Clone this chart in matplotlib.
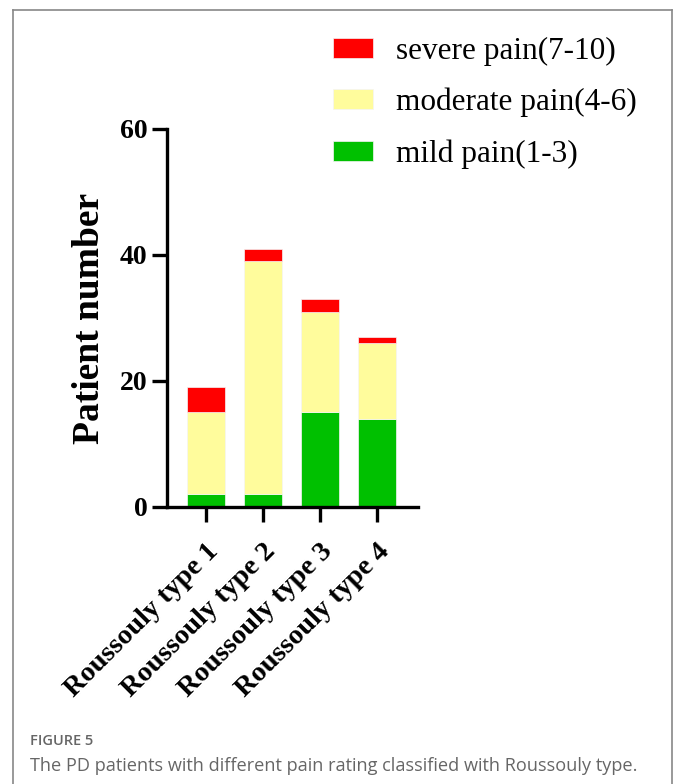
import matplotlib
matplotlib.use("Agg")
import matplotlib.pyplot as plt
from matplotlib.lines import Line2D

categories = ["Roussouly type 1", "Roussouly type 2", "Roussouly type 3", "Roussouly type 4"]
mild = [2, 2, 15, 14]
moderate = [13, 37, 16, 12]
severe = [4, 2, 2, 1]
yticks = [0, 20, 40, 60]

c_mild = "#00C000"
c_mod = "#FFFC9C"
c_sev = "#FF0000"

serif = "Liberation Serif"

fig = plt.figure(figsize=(6.8, 7.84), dpi=100)
W, H = 680, 784

# outer frame (open at the bottom)
for xs, ys in [((13, 13), (784, 10)), ((13, 672), (10, 10)), ((672, 672), (10, 784))]:
    fig.add_artist(Line2D([x / W for x in xs], [1 - y / H for y in ys],
                          color="#888888", lw=1.2, transform=fig.transFigure))

ax = fig.add_axes([167 / W, 1 - 507 / H, (418 - 167) / W, (507 - 129) / H])

x = list(range(len(categories)))
bw = 0.67
bottom2 = [a + b for a, b in zip(mild, moderate)]
b1 = ax.bar(x, mild, width=bw, color=c_mild, edgecolor="#f4f4f4", linewidth=0.5, label="mild pain(1-3)")
b2 = ax.bar(x, moderate, width=bw, bottom=mild, color=c_mod, edgecolor="#f4f4f4", linewidth=0.5,
            label="moderate pain(4-6)")
b3 = ax.bar(x, severe, width=bw, bottom=bottom2, color=c_sev, edgecolor="#f4f4f4", linewidth=0.5,
            label="severe pain(7-10)")

ax.set_xlim(-0.68, 3.72)
ax.set_ylim(0, 60)
ax.set_yticks(yticks)
ax.set_yticklabels([str(v) for v in yticks], fontfamily=serif, fontweight="bold", fontsize=20)
ax.set_xticks(x)
ax.set_xticklabels(categories, rotation=45, ha="right", rotation_mode="anchor",
                   fontfamily=serif, fontweight="bold", fontsize=20.5)
for s in ["top", "right"]:
    ax.spines[s].set_visible(False)
for s in ["left", "bottom"]:
    ax.spines[s].set_linewidth(2.4)
ax.tick_params(axis="y", length=11, width=2.4, pad=3)
ax.tick_params(axis="x", length=11, width=2.4, pad=12)
ax.set_ylabel("Patient number", fontfamily=serif, fontweight="bold", fontsize=27, labelpad=9)

handles = [b3, b2, b1]
labels = ["severe pain(7-10)", "moderate pain(4-6)", "mild pain(1-3)"]
fig.legend(handles, labels, loc="upper left", bbox_to_anchor=(333 / W, 1 - 37 / H),
           frameon=False, prop={"family": serif, "size": 22.5},
           handlelength=1.28, handleheight=0.61, handletextpad=0.74, labelspacing=0.70,
           borderpad=0, borderaxespad=0)

fig.text(30 / W, 1 - 741 / H, "FIGURE 5", fontfamily="Open Sans", fontweight="semibold",
         fontsize=10.5, color="#666666", va="center", ha="left")
fig.text(30 / W, 1 - 766 / H,
         "The PD patients with different pain rating classified with Roussouly type.",
         fontfamily="Open Sans", fontsize=13.1, color="#666666", va="center", ha="left")

fig.savefig("out.png", dpi=100)
